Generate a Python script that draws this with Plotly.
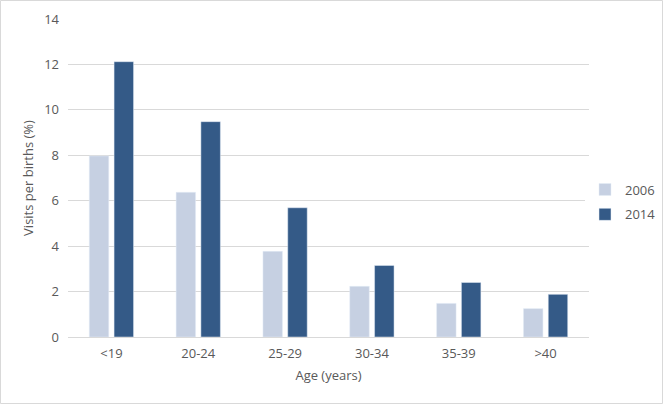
import plotly.graph_objects as go

categories = ["<19", "20-24", "25-29", "30-34", "35-39", ">40"]
values_2006 = [7.97, 6.37, 3.77, 2.23, 1.48, 1.25]
values_2014 = [12.12, 9.48, 5.69, 3.15, 2.40, 1.88]
y_ticks = [0, 2, 4, 6, 8, 10, 12, 14]

W, H = 666, 404
L, R, T, B = 68, 0, 19, 67
pw, ph = W - L - R, H - T - B
plot_right = 589

fig = go.Figure()
fig.add_trace(go.Bar(name="2006", x=categories, y=values_2006, marker_color="#C6D0E2",
                     legendgroup="a"))
fig.add_trace(go.Bar(name="2014", x=categories, y=values_2014, marker_color="#345A87",
                     legendgroup="b"))

font = "Open Sans, Liberation Sans, sans-serif"
fig.update_layout(
    width=W, height=H,
    margin=dict(l=L, r=R, t=T, b=B, autoexpand=False),
    paper_bgcolor="white", plot_bgcolor="white",
    barmode="group", bargap=0.429, bargroupgap=0.214,
    font=dict(family=font, color="#595959", size=13),
    legend=dict(x=(585 - L) / pw, xanchor="left", y=(337 - 202) / ph, yanchor="middle",
                font=dict(size=13, color="#595959"), itemwidth=30, tracegroupgap=5),
    xaxis=dict(domain=[0, (plot_right - L) / pw], automargin=False,
               title=dict(text="Age (years)", font=dict(size=13, color="#595959"), standoff=10),
               showline=True, linecolor="#D9D9D9", linewidth=1, ticks="", ticklabelstandoff=4,
               tickfont=dict(size=13, color="#595959")),
    yaxis=dict(automargin=False,
               title=dict(text="Visits per births (%)", font=dict(size=13, color="#595959"), standoff=7),
               range=[0, 14], tickvals=y_ticks, showgrid=True, gridcolor="#D9D9D9",
               zeroline=False, showline=False, ticks="", ticklen=0, ticklabelstandoff=8,
               tickfont=dict(size=13, color="#595959")),
    shapes=[dict(type="rect", xref="paper", yref="paper",
                 x0=(0.5 - L) / pw, x1=(W - 3.5 - L) / pw,
                 y0=(H - B - (H - 0.5)) / ph, y1=(H - B - 0.5) / ph,
                 line=dict(color="#D9D9D9", width=1), layer="below")],
)
fig.write_html("out.html", config={"displayModeBar": False},
               post_script="document.body.style.margin='0';document.body.style.padding='0';")
